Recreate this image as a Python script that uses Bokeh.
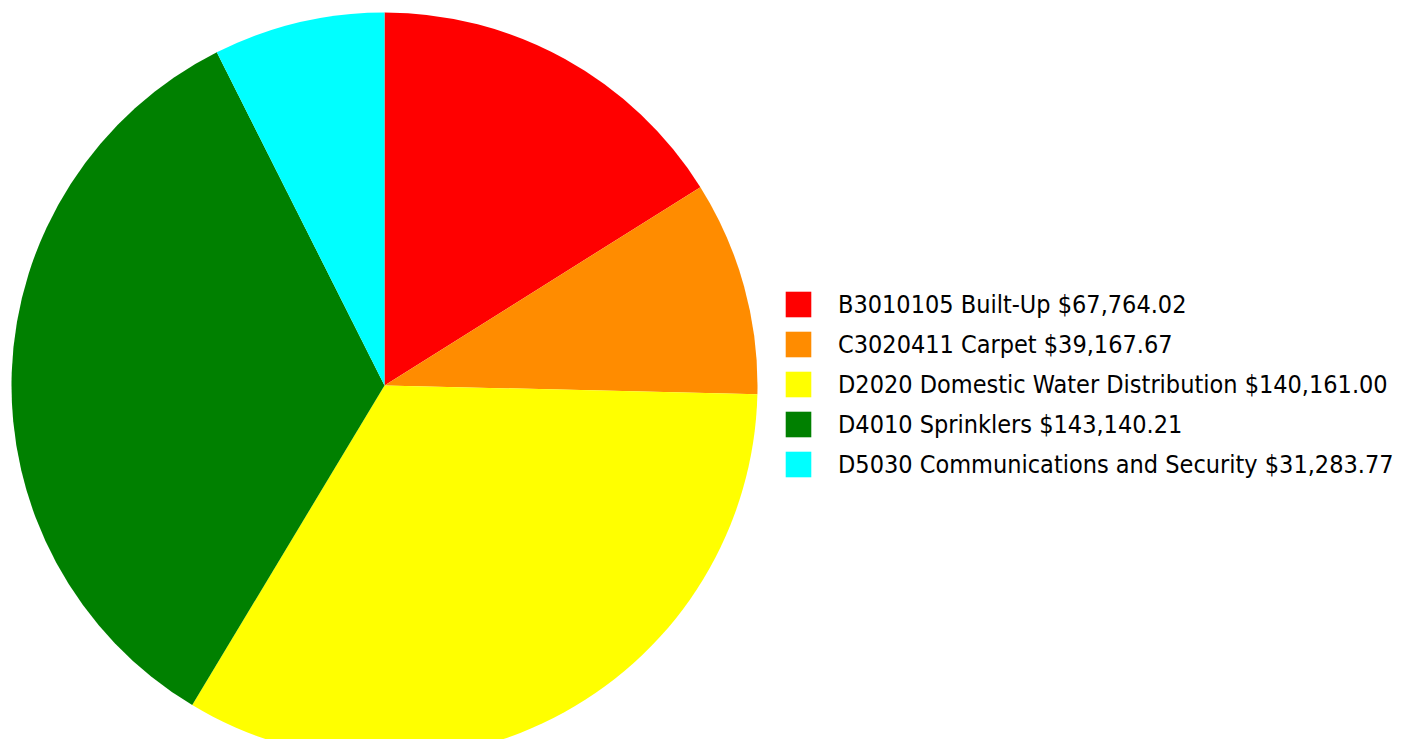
import numpy as np
from bokeh.plotting import figure
from bokeh.models import Legend, LegendItem, Range1d, ColumnDataSource
from bokeh.embed import file_html
from bokeh.resources import INLINE

categories = ["B3010105 Built-Up", "C3020411 Carpet", "D2020 Domestic Water Distribution",
              "D4010 Sprinklers", "D5030 Communications and Security"]
values = [67764.02, 39167.67, 140161.00, 143140.21, 31283.77]
colors = ["#ff0000", "#ff8c00", "#ffff00", "#008000", "#00ffff"]

W, H = 1398, 739
p = figure(width=W, height=H, output_backend="svg", toolbar_location=None,
           x_range=Range1d(0, W), y_range=Range1d(-H, 0), min_border=0)
p.axis.visible = False
p.grid.visible = False
p.outline_line_color = None

vals = np.array(values)
total = vals.sum()
cum = np.concatenate([[0], np.cumsum(vals)])
starts = np.pi / 2 - 2 * np.pi * cum[:-1] / total
ends = np.pi / 2 - 2 * np.pi * cum[1:] / total

cx, cy, r = 384, -385, 373
items = []
for i, (c, lab, v) in enumerate(zip(colors, categories, values)):
    p.wedge(x=cx, y=cy, radius=r, start_angle=starts[i], end_angle=ends[i],
            direction="clock", fill_color=c, line_color=None)
    # legend proxy placed outside the visible range
    proxy = ColumnDataSource(dict(left=[-50], right=[-40], top=[50], bottom=[40]))
    sq = p.quad(left="left", right="right", top="top", bottom="bottom", source=proxy,
                fill_color=c, line_color=None)
    items.append(LegendItem(label=f"{lab} ${v:,.2f}", renderers=[sq]))

legend = Legend(items=items, location=(782, 259), padding=0, margin=0,
                glyph_width=32, glyph_height=32, spacing=8, label_standoff=24,
                label_height=30, label_text_font="DejaVu Sans Condensed",
                label_text_font_size="25px", label_text_color="#000000",
                border_line_alpha=0, background_fill_alpha=0)
p.add_layout(legend)

open("out.html", "w").write(file_html(p, INLINE))
